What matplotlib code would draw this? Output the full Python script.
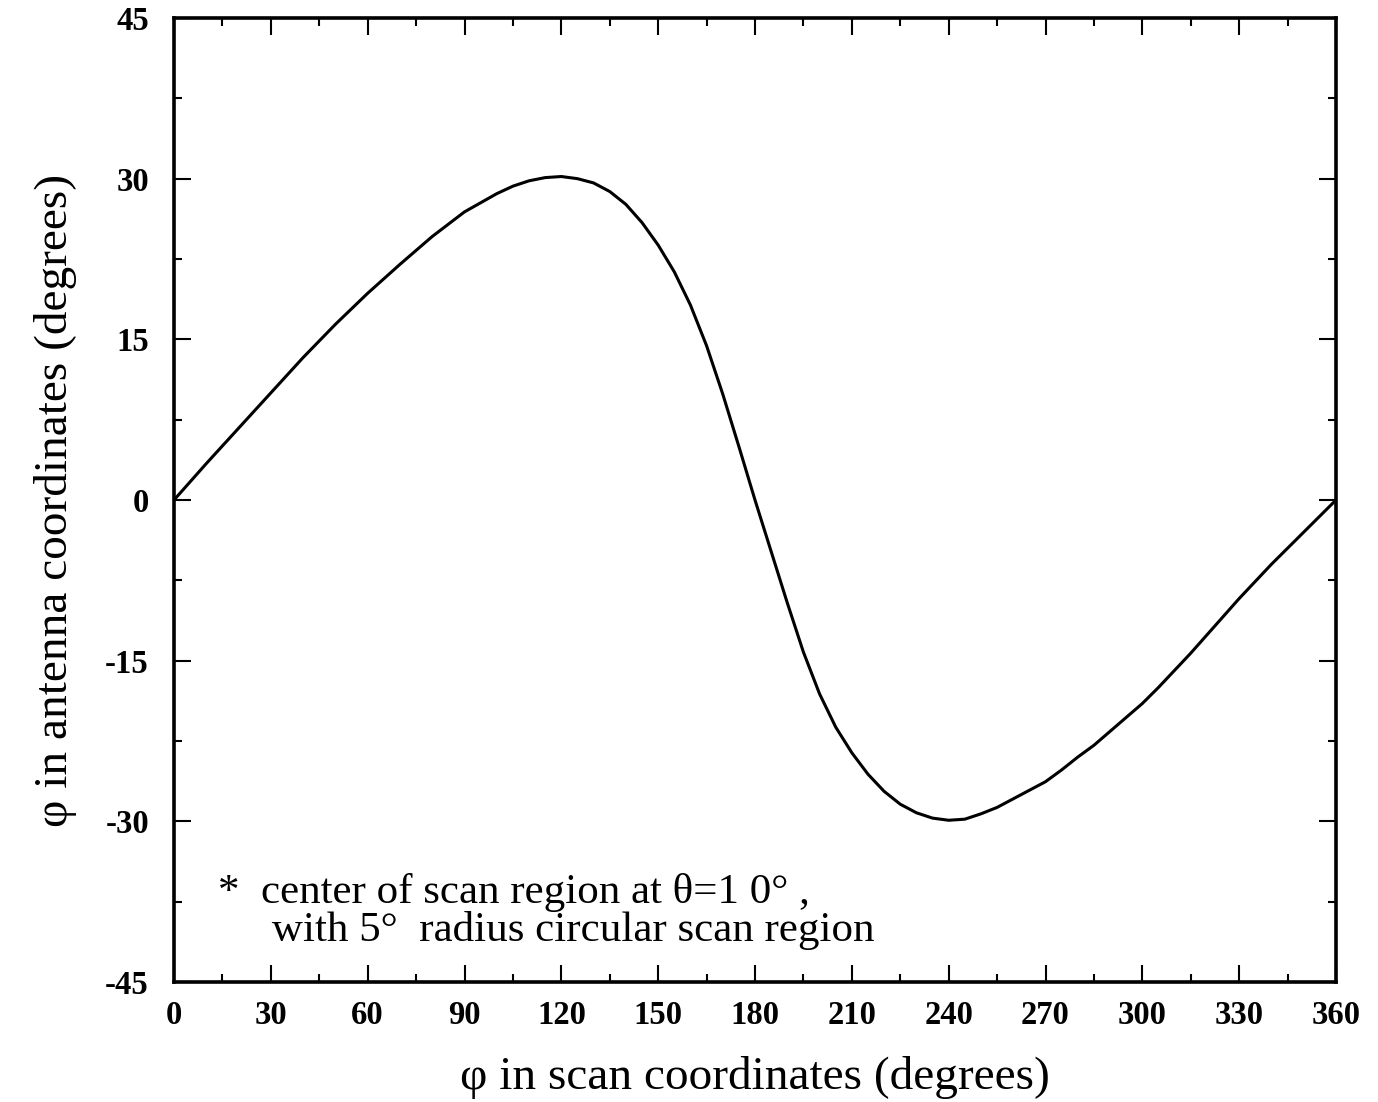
import matplotlib
matplotlib.use("Agg")
import matplotlib.pyplot as plt
from matplotlib.ticker import MultipleLocator

plt.rcParams['font.family'] = ['Liberation Serif', 'DejaVu Serif']
plt.rcParams['axes.unicode_minus'] = False

# phi in scan coordinates (deg)
phi_scan = [0, 10, 20, 30, 40, 50, 60, 70, 80, 90, 100, 105, 110, 115, 120,
            125, 130, 135, 140, 145, 150, 155, 160, 165, 170, 175, 180, 185,
            190, 195, 200, 205, 210, 215, 220, 225, 230, 235, 240, 245, 250,
            255, 260, 265, 270, 275, 280, 285, 290, 295, 300, 305, 310, 315,
            320, 325, 330, 335, 340, 345, 350, 355, 360]
# phi in antenna coordinates (deg)
phi_ant = [0, 3.4, 6.7, 10.0, 13.3, 16.4, 19.3, 22.0, 24.6, 26.9, 28.6, 29.3,
           29.8, 30.1, 30.2, 30.0, 29.6, 28.8, 27.6, 25.9, 23.8, 21.3, 18.2,
           14.4, 9.9, 5.0, 0.0, -4.8, -9.6, -14.2, -18.1, -21.2, -23.6, -25.6,
           -27.2, -28.4, -29.2, -29.7, -29.9, -29.8, -29.3, -28.7, -27.9, -27.1,
           -26.3, -25.2, -24.0, -22.9, -21.6, -20.3, -19.0, -17.5, -15.9, -14.3,
           -12.6, -10.9, -9.2, -7.6, -6.0, -4.5, -3.0, -1.5, 0]

x_ticks = [0, 30, 60, 90, 120, 150, 180, 210, 240, 270, 300, 330, 360]
y_ticks = [-45, -30, -15, 0, 15, 30, 45]

fig = plt.figure(figsize=(13.78, 11.02), dpi=100)
ax = fig.add_axes([174/1378, 1 - 982/1102, (1336-174)/1378, (982-18)/1102])

ax.plot(phi_scan, phi_ant, color='black', lw=2.2)

ax.set_xlim(0, 360)
ax.set_ylim(-45, 45)
ax.set_xticks(x_ticks)
ax.set_yticks(y_ticks)
ax.xaxis.set_minor_locator(MultipleLocator(15))
ax.yaxis.set_minor_locator(MultipleLocator(7.5))
ax.tick_params(which='both', direction='in', top=True, right=True, color='black')
ax.tick_params(which='major', length=12, width=1.5)
ax.tick_params(which='minor', length=6, width=1.5)
ax.tick_params(axis='x', which='major', pad=13)
ax.tick_params(axis='y', which='major', pad=18)
for lab in ax.get_xticklabels() + ax.get_yticklabels():
    lab.set_fontsize(23.5)
    lab.set_fontweight('bold')
for s in ax.spines.values():
    s.set_linewidth(2.6)

ax.set_xlabel('φ in scan coordinates (degrees)', fontsize=34, labelpad=18)
ax.set_ylabel('φ in antenna coordinates (degrees)', fontsize=34, labelpad=20)

ax.text(0.038, 0.033, '*  center of scan region at θ=1 0° ,\n     with 5°  radius circular scan region',
        transform=ax.transAxes, fontsize=31, va='bottom', ha='left', linespacing=0.97)

fig.savefig('out.png', dpi=100)
